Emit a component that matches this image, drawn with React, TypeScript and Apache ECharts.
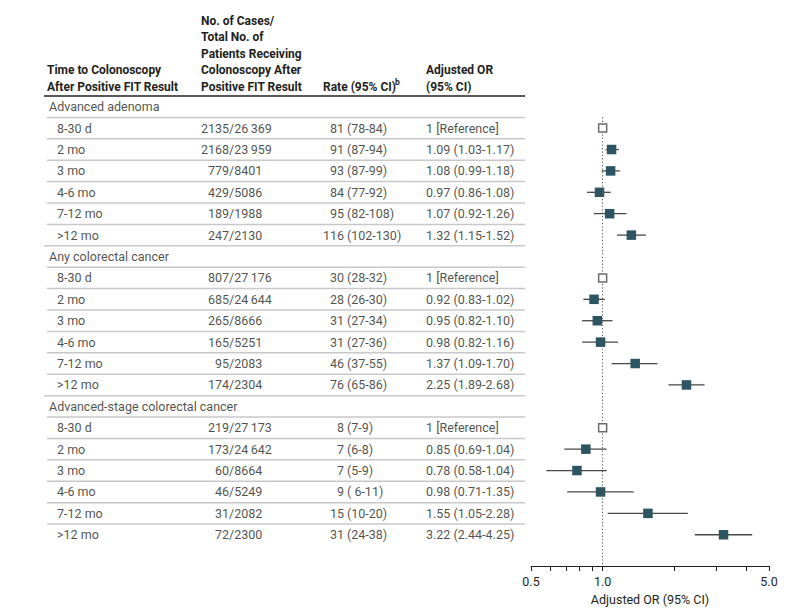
import React, { useEffect, useRef } from "react";
import * as echarts from "echarts";

const groups = ["Advanced adenoma", "Any colorectal cancer", "Advanced-stage colorectal cancer"];
const periods = ["8-30 d", "2 mo", "3 mo", "4-6 mo", "7-12 mo", ">12 mo"];
const cases = [
  [2135, 2168, 779, 429, 189, 247],
  [807, 685, 265, 165, 95, 174],
  [219, 173, 60, 46, 31, 72],
];
const totals = [
  [26369, 23959, 8401, 5086, 1988, 2130],
  [27176, 24644, 8666, 5251, 2083, 2304],
  [27173, 24642, 8664, 5249, 2082, 2300],
];
const rates = [
  [81, 91, 93, 84, 95, 116],
  [30, 28, 31, 31, 46, 76],
  [8, 7, 7, 9, 15, 31],
];
const rateLow = [
  [78, 87, 87, 77, 82, 102],
  [28, 26, 27, 27, 37, 65],
  [7, 6, 5, 6, 10, 24],
];
const rateHigh = [
  [84, 94, 99, 92, 108, 130],
  [32, 30, 34, 36, 55, 86],
  [9, 8, 9, 11, 20, 38],
];
const oddsRatio = [
  [1, 1.09, 1.08, 0.97, 1.07, 1.32],
  [1, 0.92, 0.95, 0.98, 1.37, 2.25],
  [1, 0.85, 0.78, 0.98, 1.55, 3.22],
];
const orLow = [
  [null, 1.03, 0.99, 0.86, 0.92, 1.15],
  [null, 0.83, 0.82, 0.82, 1.09, 1.89],
  [null, 0.69, 0.58, 0.71, 1.05, 2.44],
];
const orHigh = [
  [null, 1.17, 1.18, 1.08, 1.26, 1.52],
  [null, 1.02, 1.1, 1.16, 1.7, 2.68],
  [null, 1.04, 1.04, 1.35, 2.28, 4.25],
];
const tickValues = [0.5, 0.6, 0.7, 0.8, 0.9, 1, 2, 3, 4, 5];
const tickLabelValues = [0.5, 1, 5];
const axisTitle = "Adjusted OR (95% CI)";

const TXT = "#231f20";
const FONT = "Roboto";
const FS = 12.5;

function fmtNum(n: number): string {
  const s = String(n);
  if (n >= 10000) return s.slice(0, s.length - 3) + "\u2009" + s.slice(s.length - 3);
  return s;
}

export default function App() {
  const ref = useRef<HTMLDivElement>(null);
  useEffect(() => {
    if (!ref.current) return;
    const chart = echarts.init(ref.current, undefined, { renderer: "svg" });

    const COL_LABEL_GROUP = 49;
    const COL_LABEL_ROW = 57;
    const COL_SLASH = 229;
    const COL_PAREN = 347;
    const COL_OR = 426;
    const LINE_END = 525;

    const textItems: any[] = [];
    const sepData: any[] = [];
    const ciData: any[] = [];
    const pointData: any[] = [];
    const refData: any[] = [];
    let row = 0;
    const mk = (x: number, y: number, text: string, align: string) => ({
      value: [x, y],
      label: { formatter: text, align },
    });
    groups.forEach((g, gi) => {
      textItems.push(mk(COL_LABEL_GROUP, row, g, "left"));
      sepData.push([47, LINE_END, row + 0.5, 0]);
      row++;
      periods.forEach((p, pi) => {
        textItems.push(mk(COL_LABEL_ROW, row, p, "left"));
        textItems.push(mk(COL_SLASH, row, String(cases[gi][pi]), "right"));
        textItems.push(mk(COL_SLASH, row, "/" + fmtNum(totals[gi][pi]), "left"));
        textItems.push(mk(COL_PAREN - 3, row, String(rates[gi][pi]), "right"));
        const lo0 = rateLow[gi][pi];
        const hi0 = rateHigh[gi][pi];
        const loS = lo0 < 10 && hi0 >= 10 ? " " + lo0 : String(lo0);
        textItems.push(mk(COL_PAREN, row, `(${loS}-${hi0})`, "left"));
        const o = oddsRatio[gi][pi];
        const lo = orLow[gi][pi];
        const hi = orHigh[gi][pi];
        if (lo == null || hi == null) {
          textItems.push(mk(COL_OR, row, "1 [Reference]", "left"));
          refData.push([Math.log10(o), row]);
        } else {
          textItems.push(
            mk(COL_OR, row, `${o.toFixed(2)} (${lo.toFixed(2)}-${hi.toFixed(2)})`, "left")
          );
          ciData.push([Math.log10(lo), Math.log10(hi), row]);
          pointData.push([Math.log10(o), row]);
        }
        const last = pi === periods.length - 1;
        const lastGroup = gi === groups.length - 1;
        if (!(last && lastGroup)) sepData.push([last ? 44 : 47, LINE_END, row + 0.5, 0]);
        row++;
      });
    });
    sepData.push([44, LINE_END, -0.5, 1]);

    const Y_MIN = -0.5;
    const Y_MAX = 21.46;
    const yAxisBase = {
      type: "value",
      inverse: true,
      min: Y_MIN,
      max: Y_MAX,
      show: false,
    };
    const lg = (v: number) => Math.log10(v);

    const headerFont = `bold 12px ${FONT}`;
    const headerLines: [string, number, number][] = [
      ["No. of Cases/", 201, 20.5],
      ["Total No. of", 201, 37],
      ["Patients Receiving", 201, 53.5],
      ["Colonoscopy After", 201, 70],
      ["Positive FIT Result", 201, 86.5],
      ["Time to Colonoscopy", 47, 70],
      ["After Positive FIT Result", 47, 86.5],
      ["Rate (95% CI)", 323, 86.5],
      ["Adjusted OR", 426, 70],
      ["(95% CI)", 426, 86.5],
    ];
    const graphics: any[] = headerLines.map(([t, x, y]) => ({
      type: "text",
      x,
      y,
      style: { text: t, font: headerFont, fill: TXT, verticalAlign: "middle", align: "left" },
    }));
    graphics.push({
      type: "text",
      x: 395,
      y: 81.5,
      style: { text: "b", font: `bold 8.5px ${FONT}`, fill: TXT, verticalAlign: "middle", align: "left" },
    });

    const option: any = {
      animation: false,
      backgroundColor: "#ffffff",
      grid: [
        { left: 0, right: 0, top: 96, height: 470 },
        { left: 531, right: 27, top: 96, height: 470 },
      ],
      xAxis: [
        { type: "value", gridIndex: 0, min: 0, max: 796, show: false },
        {
          type: "value",
          gridIndex: 1,
          min: lg(0.5),
          max: lg(5),
          splitLine: { show: false },
          axisLine: { show: true, onZero: false, lineStyle: { color: TXT, width: 1 } },
          axisTick: {
            show: true,
            length: 5,
            inside: false,
            customValues: tickValues.map(lg),
            lineStyle: { color: TXT, width: 1 },
          },
          axisLabel: {
            show: true,
            customValues: tickLabelValues.map(lg),
            formatter: (v: number) => Math.pow(10, v).toFixed(1),
            color: TXT,
            fontFamily: FONT,
            fontSize: FS,
            margin: 9,
          },
          name: axisTitle,
          nameLocation: "middle",
          nameGap: 27,
          nameTextStyle: { color: TXT, fontFamily: FONT, fontSize: FS },
        },
      ],
      yAxis: [
        { ...yAxisBase, gridIndex: 0 },
        { ...yAxisBase, gridIndex: 1 },
      ],
      graphic: graphics,
      series: [
        {
          type: "custom",
          xAxisIndex: 0,
          yAxisIndex: 0,
          encode: { x: [0, 1], y: 2 },
          data: sepData,
          renderItem: (_p: any, api: any) => {
            const a = api.coord([api.value(0), api.value(2)]);
            const b = api.coord([api.value(1), api.value(2)]);
            const header = api.value(3) === 1;
            return {
              type: "line",
              shape: { x1: a[0], y1: a[1], x2: b[0], y2: b[1] },
              style: {
                stroke: header ? TXT : "#c8c8c8",
                lineWidth: header ? 1.3 : 1.5,
              },
            };
          },
          silent: true,
        },
        {
          type: "scatter",
          xAxisIndex: 0,
          yAxisIndex: 0,
          symbolSize: 0,
          data: textItems,
          label: {
            show: true,
            position: "inside",
            verticalAlign: "middle",
            color: TXT,
            fontFamily: FONT,
            fontSize: FS,
          },
          silent: true,
        },
        {
          type: "custom",
          xAxisIndex: 1,
          yAxisIndex: 1,
          encode: { x: [0, 1], y: 2 },
          data: ciData,
          z: 2,
          renderItem: (_p: any, api: any) => {
            const a = api.coord([api.value(0), api.value(2)]);
            const b = api.coord([api.value(1), api.value(2)]);
            return {
              type: "line",
              shape: { x1: a[0], y1: a[1], x2: b[0], y2: b[1] },
              style: { stroke: "#474747", lineWidth: 1.3 },
            };
          },
          silent: true,
        },
        {
          type: "scatter",
          xAxisIndex: 1,
          yAxisIndex: 1,
          symbol: "rect",
          symbolSize: 9.5,
          z: 4,
          itemStyle: { color: "#2c5461", opacity: 1 },
          data: pointData,
          markLine: {
            silent: true,
            symbol: "none",
            label: { show: false },
            lineStyle: { color: "#555555", type: [1.2, 2.2], width: 1 },
            data: [[{ coord: [0, 0.5] }, { coord: [0, Y_MAX] }]],
          },
          silent: true,
        },
        {
          type: "scatter",
          xAxisIndex: 1,
          yAxisIndex: 1,
          symbol: "rect",
          symbolSize: 8,
          z: 5,
          itemStyle: { color: "#ffffff", borderColor: "#6b6b6b", borderWidth: 1.5, opacity: 1 },
          data: refData,
          silent: true,
        },
      ],
    };
    chart.setOption(option);
    return () => chart.dispose();
  }, []);
  return (
    <div
      ref={ref}
      style={{ position: "absolute", left: 0, top: 0, width: 796, height: 611, background: "#fff" }}
    />
  );
}
